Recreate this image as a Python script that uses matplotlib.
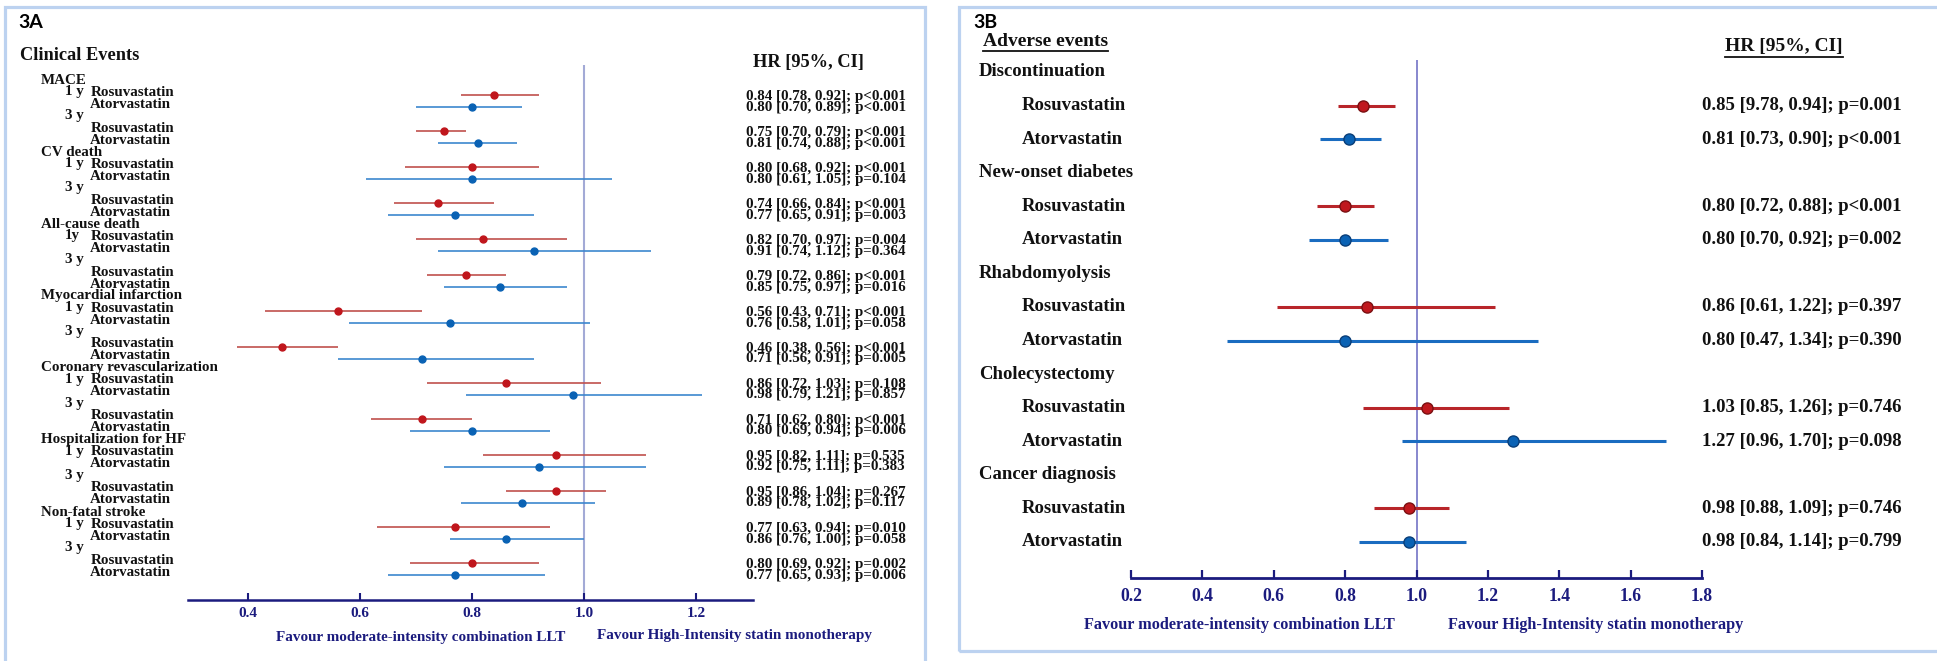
import matplotlib
matplotlib.use('Agg')
import matplotlib.pyplot as plt
from matplotlib.patches import Rectangle
from matplotlib.lines import Line2D
from matplotlib.transforms import blended_transform_factory as btf

# ---------------- data: panel 3A (clinical events) ----------------
outcomes_a = ["MACE", "CV death", "All-cause death", "Myocardial infarction",
              "Coronary revascularization", "Hospitalization for HF", "Non-fatal stroke"]
year_tags_a = [("1 y", "3 y"), ("1 y", "3 y"), ("1y", "3 y"), ("1 y", "3 y"),
               ("1 y", "3 y"), ("1 y", "3 y"), ("1 y", "3 y")]
# order: outcome0 1y, outcome0 3y, outcome1 1y, ...
rosu_hr_a = [0.84, 0.75, 0.80, 0.74, 0.82, 0.79, 0.56, 0.46, 0.86, 0.71, 0.95, 0.95, 0.77, 0.80]
rosu_lo_a = [0.78, 0.70, 0.68, 0.66, 0.70, 0.72, 0.43, 0.38, 0.72, 0.62, 0.82, 0.86, 0.63, 0.69]
rosu_hi_a = [0.92, 0.79, 0.92, 0.84, 0.97, 0.86, 0.71, 0.56, 1.03, 0.80, 1.11, 1.04, 0.94, 0.92]
rosu_p_a = ["p<0.001", "p<0.001", "p<0.001", "p<0.001", "p=0.004", "p<0.001", "p<0.001",
            "p<0.001", "p=0.108", "p<0.001", "p=0.535", "p=0.267", "p=0.010", "p=0.002"]
ator_hr_a = [0.80, 0.81, 0.80, 0.77, 0.91, 0.85, 0.76, 0.71, 0.98, 0.80, 0.92, 0.89, 0.86, 0.77]
ator_lo_a = [0.70, 0.74, 0.61, 0.65, 0.74, 0.75, 0.58, 0.56, 0.79, 0.69, 0.75, 0.78, 0.76, 0.65]
ator_hi_a = [0.89, 0.88, 1.05, 0.91, 1.12, 0.97, 1.01, 0.91, 1.21, 0.94, 1.11, 1.02, 1.00, 0.93]
ator_p_a = ["p<0.001", "p<0.001", "p=0.104", "p=0.003", "p=0.364", "p=0.016", "p=0.058",
            "p=0.005", "p=0.857", "p=0.006", "p=0.383", "p=0.117", "p=0.058", "p=0.006"]
ticks_a = [0.4, 0.6, 0.8, 1.0, 1.2]

# ---------------- data: panel 3B (adverse events) ----------------
outcomes_b = ["Discontinuation", "New-onset diabetes", "Rhabdomyolysis",
              "Cholecystectomy", "Cancer diagnosis"]
rosu_hr_b = [0.85, 0.80, 0.86, 1.03, 0.98]
rosu_lo_b = [0.78, 0.72, 0.61, 0.85, 0.88]
rosu_hi_b = [0.94, 0.88, 1.22, 1.26, 1.09]
ator_hr_b = [0.81, 0.80, 0.80, 1.27, 0.98]
ator_lo_b = [0.73, 0.70, 0.47, 0.96, 0.84]
ator_hi_b = [0.90, 0.92, 1.34, 1.70, 1.14]
rosu_text_b = ["0.85 [9.78, 0.94]; p=0.001", "0.80 [0.72, 0.88]; p<0.001",
               "0.86 [0.61, 1.22]; p=0.397", "1.03 [0.85, 1.26]; p=0.746",
               "0.98 [0.88, 1.09]; p=0.746"]
ator_text_b = ["0.81 [0.73, 0.90]; p<0.001", "0.80 [0.70, 0.92]; p=0.002",
               "0.80 [0.47, 1.34]; p=0.390", "1.27 [0.96, 1.70]; p=0.098",
               "0.98 [0.84, 1.14]; p=0.799"]
ticks_b = [0.2, 0.4, 0.6, 0.8, 1.0, 1.2, 1.4, 1.6, 1.8]

drug_names = ["Rosuvastatin", "Atorvastatin"]
fav_left = "Favour moderate-intensity combination LLT"
fav_right = "Favour High-Intensity statin monotherapy"

# ---------------- layout helpers ----------------
W, H = 1937, 661
fig = plt.figure(figsize=(W / 100, H / 100), dpi=100)
fig.patch.set_facecolor('white')


def fx(px):
    return px / W


def fy(py):
    return 1 - py / H


SERIF = ['Liberation Serif', 'DejaVu Serif']
SANS = ['Lato', 'DejaVu Sans']
NAVY = '#1B1B7E'
TXT = '#111111'
RED_DOT, RED_LINE = '#C0161C', '#C0504D'
BLUE_DOT, BLUE_LINE = '#0A62B4', '#3C87CE'
BORDER = '#BCD2F0'

# panel borders
fig.patches.append(Rectangle((fx(5), fy(700)), fx(925) - fx(5), fy(7) - fy(700),
                             transform=fig.transFigure, fill=False, ec=BORDER, lw=2.3))
fig.patches.append(Rectangle((fx(959), fy(651)), fx(1945) - fx(959), fy(7) - fy(651),
                             transform=fig.transFigure, fill=False, ec=BORDER, lw=2.3))

# ================= Panel A =================
a_left, a_right, a_top, a_bot = 188, 753, 65, 600
axA = fig.add_axes([fx(a_left), fy(a_bot), fx(a_right) - fx(a_left), fy(a_top) - fy(a_bot)])
row0_px, row_step = 80.0, 12.0
axA.set_xlim(0.4 - (248 - a_left) / 560.0, 0.4 + (a_right - 248) / 560.0)
axA.set_ylim((a_bot - row0_px) / row_step, (a_top - row0_px) / row_step)
for s in ['top', 'left', 'right']:
    axA.spines[s].set_visible(False)
axA.spines['bottom'].set_color(NAVY)
axA.spines['bottom'].set_linewidth(1.8)
axA.set_yticks([])
axA.set_xticks(ticks_a)
axA.set_xticklabels([f"{t:.1f}" for t in ticks_a])
axA.tick_params(axis='x', direction='in', length=5, width=1.5, colors=NAVY, pad=5,
                labelsize=11)
for lab in axA.get_xticklabels():
    lab.set_fontfamily(SERIF)
    lab.set_fontweight('bold')
axA.set_facecolor('none')
axA.axvline(1.0, color='#A3AAD6', lw=1.5, zorder=1)

trA = btf(fig.transFigure, axA.transData)
kw = dict(family=SERIF, weight='bold', color=TXT, va='center', fontsize=10.8)
pt_off = 0.25
for k, name in enumerate(outcomes_a):
    base = 6 * k
    axA.text(fx(41), base, name, transform=trA, **kw)
    for t in range(2):
        j = 2 * k + t
        r_row = base + 1 + 3 * t
        a_row = base + 2 + 3 * t
        tag_row = base + 1 if t == 0 else base + 3
        axA.text(fx(65), tag_row, year_tags_a[k][t], transform=trA, **kw)
        axA.text(fx(91), r_row, drug_names[0], transform=trA, **kw)
        axA.text(fx(90), a_row, drug_names[1], transform=trA, **kw)
        axA.hlines(r_row + pt_off, rosu_lo_a[j], rosu_hi_a[j], color=RED_LINE, lw=1.2, zorder=2)
        axA.plot(rosu_hr_a[j], r_row + pt_off, 'o', color=RED_DOT, ms=5, zorder=3)
        axA.hlines(a_row + pt_off, ator_lo_a[j], ator_hi_a[j], color=BLUE_LINE, lw=1.2, zorder=2)
        axA.plot(ator_hr_a[j], a_row + pt_off, 'o', color=BLUE_DOT, ms=5, zorder=3)
        axA.text(fx(746), r_row + 0.35,
                 f"{rosu_hr_a[j]:.2f} [{rosu_lo_a[j]:.2f}, {rosu_hi_a[j]:.2f}]; {rosu_p_a[j]}",
                 transform=trA, **kw)
        axA.text(fx(746), a_row + 0.25,
                 f"{ator_hr_a[j]:.2f} [{ator_lo_a[j]:.2f}, {ator_hi_a[j]:.2f}]; {ator_p_a[j]}",
                 transform=trA, **kw)

fig.text(fx(18), fy(23), "3A", family=SANS, weight='bold', fontsize=14, va='center', color='black')
fig.text(fx(20), fy(56), "Clinical Events", family=SERIF, weight='bold', fontsize=13.2,
         va='center', color=TXT)
fig.text(fx(753), fy(62), "HR [95%, CI]", family=SERIF, weight='bold', fontsize=13.2,
         va='center', color=TXT)
fig.text(fx(276), fy(637), fav_left, family=SERIF, weight='bold', fontsize=10.9,
         va='center', color=NAVY)
fig.text(fx(597), fy(636), fav_right, family=SERIF, weight='bold', fontsize=10.9,
         va='center', color=NAVY)

# ================= Panel B =================
b_left, b_right, b_top, b_bot = 1131, 1702, 60, 578
axB = fig.add_axes([fx(b_left), fy(b_bot), fx(b_right) - fx(b_left), fy(b_top) - fy(b_bot)])
rowb0_px, rowb_step = 72.0, 33.57
axB.set_xlim(0.2, 1.8)
axB.set_ylim((b_bot - rowb0_px) / rowb_step, (b_top - rowb0_px) / rowb_step)
for s in ['top', 'left', 'right']:
    axB.spines[s].set_visible(False)
axB.spines['bottom'].set_color(NAVY)
axB.spines['bottom'].set_linewidth(2.0)
axB.spines['bottom'].set_bounds(0.2, 1.8)
axB.set_yticks([])
axB.set_xticks(ticks_b)
axB.set_xticklabels([f"{t:.1f}" for t in ticks_b])
axB.tick_params(axis='x', direction='in', length=6, width=1.6, colors=NAVY, pad=7,
                labelsize=12.7)
for lab in axB.get_xticklabels():
    lab.set_fontfamily(SERIF)
    lab.set_fontweight('bold')
axB.set_facecolor('none')
axB.axvline(1.0, color='#7373C6', lw=1.2, zorder=1)

trB = btf(fig.transFigure, axB.transData)
kwb = dict(family=SERIF, weight='bold', color=TXT, va='center', fontsize=13.5)
for k, name in enumerate(outcomes_b):
    base = 3 * k
    axB.text(fx(979), base, name, transform=trB, **kwb)
    axB.text(fx(1022), base + 1, drug_names[0], transform=trB, **kwb)
    axB.text(fx(1022), base + 2, drug_names[1], transform=trB, **kwb)
    axB.hlines(base + 1, rosu_lo_b[k], rosu_hi_b[k], color='#B8252A', lw=2.2, zorder=2,
               clip_on=False)
    axB.plot(rosu_hr_b[k], base + 1, 'o', color='#C0181E', mec='#7A1012', mew=1.0, ms=8,
             zorder=3, clip_on=False)
    axB.hlines(base + 2, ator_lo_b[k], ator_hi_b[k], color='#1A6CC0', lw=2.2, zorder=2,
               clip_on=False)
    axB.plot(ator_hr_b[k], base + 2, 'o', color='#0A62B4', mec='#0A3E78', mew=1.0, ms=8,
             zorder=3, clip_on=False)
    axB.text(fx(1702), base + 1, rosu_text_b[k], transform=trB, **kwb)
    axB.text(fx(1702), base + 2, ator_text_b[k], transform=trB, **kwb)

fig.text(fx(973), fy(23), "3B", family=SANS, weight='bold', fontsize=14, va='center', color='black')
t_ae = fig.text(fx(983), fy(41), "Adverse events", family=SERIF, weight='bold', fontsize=14,
                va='center', color=TXT)
t_hr = fig.text(fx(1725), fy(47), "HR [95%, CI]", family=SERIF, weight='bold', fontsize=14,
                va='center', color=TXT)
fig.text(fx(1084), fy(625), fav_left, family=SERIF, weight='bold', fontsize=11.7,
         va='center', color=NAVY)
fig.text(fx(1448), fy(625), fav_right, family=SERIF, weight='bold', fontsize=11.7,
         va='center', color=NAVY)

# underlines
fig.canvas.draw()
rend = fig.canvas.get_renderer()
for t, upx in [(t_ae, 51), (t_hr, 57)]:
    bb = t.get_window_extent(rend)
    fig.lines.append(Line2D([bb.x0 / W, bb.x1 / W], [fy(upx), fy(upx)],
                            transform=fig.transFigure, color=TXT, lw=1.3))

fig.savefig('out.png', dpi=100, facecolor='white')
